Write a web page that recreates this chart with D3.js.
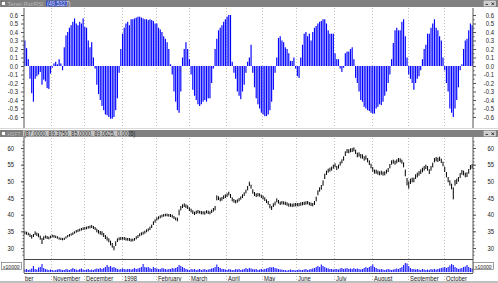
<!DOCTYPE html>
<html><head><meta charset="utf-8">
<script src="https://cdn.jsdelivr.net/npm/d3@7"></script>
<style>
html,body{margin:0;padding:0;background:#fff;overflow:hidden}
svg{display:block}
text{font-family:"Liberation Sans",Arial,sans-serif}
</style></head><body><svg id="c" width="498" height="283"></svg>
<script>
// ---- data ----
const monthLabels = ["ber","November","December","1998","February","March","April","May","June","July","August","September","October"];
const monthDays   = [16,19,22,20,19,22,21,20,22,22,21,21,17];

const rsi = [
 0.30,0.21,0.08,-0.15,-0.32,-0.42,-0.15,-0.12,-0.10,-0.07,
 -0.22,-0.16,-0.18,-0.26,-0.27,-0.09,-0.02,0.03,0.05,0.02,
 0.08,0.03,-0.05,0.22,0.36,0.40,0.45,0.48,0.52,0.56,
 0.50,0.48,0.52,0.50,0.56,0.46,0.45,0.30,0.22,0.28,
 0.10,-0.03,-0.22,-0.33,-0.40,-0.47,-0.52,-0.57,-0.58,-0.60,
 -0.62,-0.62,-0.60,-0.52,-0.38,-0.08,0.20,0.38,0.45,0.50,
 0.52,0.48,0.55,0.55,0.56,0.57,0.58,0.58,0.57,0.56,
 0.55,0.55,0.54,0.55,0.54,0.53,0.50,0.50,0.45,0.43,
 0.40,0.35,0.32,0.28,0.20,0.02,-0.10,-0.30,-0.42,-0.52,
 -0.55,-0.30,0.10,0.20,0.28,0.20,0.08,-0.10,-0.28,-0.35,
 -0.40,-0.45,-0.47,-0.45,-0.42,-0.40,-0.42,-0.38,-0.38,-0.20,
 -0.03,0.20,0.32,0.42,0.45,0.48,0.52,0.55,0.58,0.60,
 0.60,0.05,-0.08,-0.15,-0.30,-0.35,-0.39,-0.30,-0.22,-0.08,
 0.05,0.10,0.25,-0.08,-0.25,-0.38,-0.45,-0.50,-0.55,-0.57,
 -0.59,-0.59,-0.57,-0.52,-0.42,-0.28,-0.08,0.10,0.33,0.35,
 0.30,0.28,0.22,0.20,0.15,0.06,0.06,0.10,-0.03,-0.12,
 -0.14,0.10,0.25,0.38,0.40,0.35,0.38,0.30,0.40,0.45,
 0.47,0.50,0.52,0.53,0.55,0.55,0.50,0.42,0.38,0.38,
 0.38,0.15,0.08,0.08,-0.03,-0.07,-0.02,0.15,0.17,0.17,
 0.20,0.22,0.08,-0.14,-0.20,-0.30,-0.40,-0.42,-0.48,-0.50,
 -0.52,-0.53,-0.55,-0.56,-0.56,-0.50,-0.48,-0.45,-0.46,-0.42,
 -0.35,-0.30,-0.20,-0.10,0.08,0.27,0.42,0.45,0.42,0.42,
 0.52,0.55,0.35,0.10,-0.10,-0.15,-0.20,-0.28,-0.20,-0.15,
 -0.12,-0.05,0.08,0.20,0.25,0.38,0.38,0.45,0.50,0.55,
 0.45,0.42,0.35,0.30,0.10,-0.05,-0.20,-0.30,-0.50,-0.55,
 -0.60,-0.50,-0.40,-0.25,-0.05,0.02,0.20,0.30,0.32,0.42,
 0.50,0.48
];

const lo = [
 34.1,34.0,33.8,33.3,32.8,33.3,33.9,33.6,33.2,32.5,
 31.2,32.4,32.9,32.7,32.6,32.9,33.2,33.1,33.0,32.8,
 32.5,32.4,32.3,32.4,32.8,33.2,33.4,33.7,33.9,34.3,
 34.6,34.8,35.0,35.2,35.4,35.5,35.6,35.8,35.9,36.0,
 35.7,35.4,34.7,34.3,34.0,33.8,33.3,32.7,32.2,31.7,
 30.8,30.1,29.3,30.6,31.8,32.3,32.4,32.5,32.4,32.2,
 32.2,32.1,31.9,32.0,32.2,32.6,33.0,33.5,33.8,34.0,
 34.3,34.7,35.0,35.4,36.0,36.9,37.6,38.2,38.6,38.9,
 39.2,39.4,39.5,39.5,39.4,39.3,39.1,38.7,38.3,38.0,
 39.8,41.3,42.0,42.3,42.0,41.7,41.1,40.7,40.2,39.9,
 40.2,40.4,40.3,40.1,40.1,40.0,40.4,40.2,40.1,40.5,
 40.9,41.3,44.3,44.4,44.0,44.2,44.7,45.0,45.3,45.8,
 45.0,44.0,43.6,43.4,43.6,44.0,44.5,45.0,45.6,46.4,
 47.3,48.6,47.8,46.3,45.6,45.3,45.5,45.4,45.0,44.6,
 44.1,43.5,43.0,41.9,41.4,42.3,42.8,43.7,43.3,42.9,
 43.1,43.0,42.9,42.7,42.4,42.4,42.3,42.4,42.5,42.5,
 42.5,42.7,42.8,42.9,43.0,43.1,42.8,42.6,42.5,42.9,
 44.0,45.8,46.9,47.5,48.7,50.7,51.9,52.6,52.9,53.2,
 53.8,54.2,53.4,53.8,54.7,55.4,56.2,57.6,58.5,58.4,
 58.7,58.8,59.0,58.2,57.2,57.4,56.9,56.8,56.2,56.5,
 55.7,54.9,53.9,52.9,52.3,52.3,52.0,51.8,52.0,51.7,
 51.8,52.3,52.8,53.9,55.0,55.3,55.0,55.4,55.8,55.7,
 55.3,54.2,51.5,48.8,47.8,49.2,49.7,49.7,50.7,51.2,
 51.7,52.2,52.7,53.2,53.7,53.2,52.2,53.2,54.2,55.7,
 56.0,55.8,56.1,55.5,54.5,52.8,51.2,49.7,48.7,47.6,
 44.6,48.7,49.2,49.9,51.0,52.0,51.8,51.2,51.3,52.3,
 53.5,53.8
];

const hi = [
 35.0,34.9,34.6,34.3,33.9,34.2,35.0,34.6,34.4,33.7,
 33.0,33.5,33.8,33.6,33.4,33.7,34.0,33.9,33.7,33.5,
 33.2,33.1,33.0,33.1,33.5,33.9,34.2,34.4,34.7,35.0,
 35.4,35.6,35.8,36.0,36.2,36.3,36.4,36.6,36.7,36.9,
 36.6,36.3,35.8,35.4,35.1,35.0,34.5,33.9,33.4,32.9,
 32.2,31.5,30.6,32.0,32.9,33.2,33.3,33.3,33.3,33.1,
 33.0,33.0,32.8,32.8,33.0,33.5,33.9,34.4,34.7,34.9,
 35.2,35.6,35.9,36.4,37.0,38.0,38.6,39.2,39.5,39.8,
 40.0,40.2,40.3,40.3,40.2,40.2,40.0,39.6,39.2,39.1,
 41.5,42.6,43.1,43.4,43.1,42.8,42.2,41.8,41.3,40.9,
 41.2,41.4,41.2,41.1,41.0,41.0,41.3,41.2,41.0,41.5,
 42.0,42.6,45.8,45.5,45.1,45.3,45.8,46.1,46.4,46.9,
 46.2,45.2,44.7,44.4,44.6,45.0,45.5,46.1,46.7,47.5,
 48.6,49.9,49.0,47.6,46.8,46.4,46.5,46.4,46.0,45.7,
 45.2,44.6,44.1,43.2,42.6,43.4,43.9,44.9,44.4,43.9,
 44.1,44.0,43.9,43.7,43.4,43.4,43.3,43.4,43.5,43.5,
 43.5,43.7,43.8,43.9,44.0,44.1,43.8,43.6,43.5,44.1,
 45.4,47.3,48.2,48.9,50.3,52.3,53.2,53.8,54.1,54.4,
 55.0,55.4,54.6,55.0,55.9,56.6,57.5,59.0,59.7,59.6,
 59.9,60.0,60.2,59.5,58.6,58.7,58.2,58.1,57.5,57.8,
 57.0,56.3,55.3,54.3,53.5,53.5,53.2,53.0,53.2,52.9,
 53.0,53.5,54.0,55.2,56.3,56.5,56.2,56.6,57.0,56.9,
 56.5,55.7,53.5,51.0,50.0,50.8,51.1,51.1,52.1,52.6,
 53.1,53.6,54.1,54.6,55.0,54.6,53.6,54.6,55.6,57.0,
 57.3,57.1,57.4,56.8,55.9,54.4,52.8,51.3,50.3,49.3,
 48.2,50.4,50.8,51.3,52.5,53.4,53.2,52.6,52.7,53.7,
 54.9,55.2
];

const volume = [
 2.5,3,2,2.5,3.5,6,3,2.5,4.5,5,
 8,4,3,2.5,2,2.5,2,1.5,2,2.5,
 3,2.5,2,2,3,2.5,2,3,4,3,
 2.5,2,3,3.5,2.5,2,2.5,3,2,2.5,
 2,3,3.5,3,4,3,4,5,7,5,
 6,4.5,5,4,3,2.5,3,3.5,3,2.5,
 3,3,2.5,3,4,3,3.5,4,5,8,
 5,4.5,5,4,3,5,4,3.5,3,3,
 4,3.5,3,2.5,3,3,4,3.5,4,5,
 7,6,5,4,3,2.5,2,3,2.5,3,
 2,2.5,3,2,2.5,3,2,2.5,3,3.5,
 4,5,7.5,5,4,3,3,2.5,2,3,
 2.5,2,2,3,2.5,3,2,2.5,3,4,
 3,4,3.5,3,2.5,3,2,2.5,3,2.5,
 3,3.5,4,5,4.5,5,4,3.5,3,2.5,
 2.5,2,2,1.5,2,2.5,2,2,1.5,2,
 2.5,2,2,2.5,3,2,2.5,3,3.5,4,
 5,6,5,7.5,6,5,4,3.5,3,3,
 2.5,3,3,2.5,3.5,4,3,3.5,4,3,
 3.5,3,4,3,3.5,3,2.5,3,4,5,
 4,5,6,7.5,5,4,3,2.5,3,2.5,
 2,2.5,3,2.5,2,2.5,3,3.5,3,4,
 5,7,9,8.5,6,4,3,3,2.5,3,
 2.5,2,3,2.5,2,2.5,2,3,2.5,3,
 2.5,3,3.5,4,4.5,5,4,5,6.5,8,
 7,5,4,3,3.5,4,5,5.5,7,5,
 4,3.5
];

const rsiTicks   = [0.6,0.5,0.4,0.3,0.2,0.1,0.0,-0.1,-0.2,-0.3,-0.4,-0.5,-0.6];
const priceTicks = [60,55,50,45,40,35,30];
const topTitle   = "Tenet Rsi/RSI";
const topValue   = "(49.5327)";
const botTitle   = "HSFT";
const botValue   = "(87.0000, 89.3750, 85.0000, 89.0625, 0.0005)";
const volUnit    = "x10000";

// ---- drawing ----
const svg = d3.select("#c");
const N = rsi.length;
const L = 24, R = 473;
const x = d3.scaleBand().domain(d3.range(N)).range([L, R]);
const yR = d3.scaleLinear().domain([-0.6, 0.6]).range([117, 15]);
const yP = d3.scaleLinear().domain([30, 60]).range([248, 148]);
const yV = d3.scaleLinear().domain([0, 10]).range([272, 262]);

const monthStart = monthDays.map((d, i) => d3.sum(monthDays.slice(0, i)));

svg.append("rect").attr("width", 498).attr("height", 283).attr("fill", "#fff");

// title bars
function titleBar(y, title, value, valFill, valText, valW, titleW) {
  const g = svg.append("g");
  g.append("rect").attr("x", 0).attr("y", y).attr("width", 498).attr("height", 7).attr("fill", "#808080");
  g.append("rect").attr("x", 1.5).attr("y", y + 1.5).attr("width", 4).attr("height", 4).attr("fill", "#fff").attr("stroke", "#444").attr("stroke-width", 0.5);
  g.append("text").attr("x", 7.5).attr("y", y + 6).attr("font-size", 6).attr("fill", "#b8b8b8")
    .attr("textLength", titleW).attr("lengthAdjust", "spacingAndGlyphs").text(title);
  g.append("rect").attr("x", valW[0]).attr("y", y + 0.5).attr("width", valW[1]).attr("height", 6).attr("fill", valFill);
  g.append("text").attr("class", "cond").attr("x", valW[0] + 1).attr("y", y + 6).attr("font-size", 6.5).attr("fill", valText).text(value);
  [484, 490].forEach(bx => {
    g.append("rect").attr("x", bx).attr("y", y + 1).attr("width", 5.5).attr("height", 5).attr("fill", "#c8c8c8").attr("stroke", "#f0f0f0").attr("stroke-width", 0.5);
  });
  g.append("path").attr("d", `M${491.5},${y+2.5}L${494},${y+5}M${494},${y+2.5}L${491.5},${y+5}`).attr("stroke", "#000").attr("stroke-width", 0.7);
  g.append("path").attr("d", `M${485.5},${y+4.5}H${488}`).attr("stroke", "#000").attr("stroke-width", 0.7);
}
titleBar(0, topTitle, topValue, "#3a52b8", "#d8d8ff", [46, 21], 36);
titleBar(130, botTitle, botValue, "#c4c4c4", "#303030", [23, 106], 13);

// month gridlines
const grid = svg.append("g").attr("stroke", "#bdbdbd").attr("stroke-dasharray", "1,2").attr("stroke-width", 1);
monthStart.slice(1).forEach(s => {
  const gx = Math.round(x(s)) + 0.5;
  grid.append("line").attr("x1", gx).attr("x2", gx).attr("y1", 8).attr("y2", 128);
  grid.append("line").attr("x1", gx).attr("x2", gx).attr("y1", 138).attr("y2", 281);
});

// RSI bars
const bw = 1.15;
svg.append("g").selectAll("rect").data(rsi).join("rect")
  .attr("x", (d, i) => x(i) + (x.bandwidth() - bw) / 2)
  .attr("width", bw)
  .attr("y", d => Math.min(yR(0), yR(d)))
  .attr("height", d => Math.abs(yR(d) - yR(0)))
  .attr("fill", "#0000ff");

// price bars
svg.append("g").selectAll("line").data(d3.range(N)).join("line")
  .attr("x1", i => x(i) + x.bandwidth() / 2).attr("x2", i => x(i) + x.bandwidth() / 2)
  .attr("y1", i => yP(lo[i])).attr("y2", i => yP(hi[i]))
  .attr("stroke", "#000").attr("stroke-width", 1);

// volume bars
svg.append("g").selectAll("rect").data(volume).join("rect")
  .attr("x", (d, i) => x(i) + (x.bandwidth() - bw) / 2)
  .attr("width", bw)
  .attr("y", d => yV(d))
  .attr("height", d => yV(0) - yV(d))
  .attr("fill", "#2020ff");

// axes
function styleAxis(g) {
  g.selectAll("text").attr("font-size", 7).attr("fill", "#202020").attr("class", "cond");
  g.selectAll("line").attr("stroke", "#555");
}
const fmt1 = v => v.toFixed(1);
const rsiMinor = d3.range(-0.55, 0.6, 0.1);
[["left", L], ["right", R]].forEach(([side, px]) => {
  const ax = side === "left" ? d3.axisLeft : d3.axisRight;
  const g1 = svg.append("g").attr("transform", `translate(${px},0)`);
  g1.call(ax(yR).tickValues(rsiTicks).tickFormat(fmt1).tickSize(3).tickSizeOuter(0).tickPadding(side === "left" ? 3 : 12));
  g1.select(".domain").remove();
  g1.append("line").attr("x1", 0).attr("x2", 0).attr("y1", 8).attr("y2", 128);
  g1.append("g").call(ax(yR).tickValues(rsiMinor).tickFormat("").tickSize(1.5).tickSizeOuter(0)).select(".domain").remove();
  styleAxis(g1);
  if (side === "right") g1.selectAll("text").attr("text-anchor", "end").attr("x", 21);

  const g2 = svg.append("g").attr("transform", `translate(${px},0)`);
  g2.call(ax(yP).tickValues(priceTicks).tickSize(3).tickSizeOuter(0).tickPadding(side === "left" ? 7 : 12));
  g2.select(".domain").remove();
  g2.append("line").attr("x1", 0).attr("x2", 0).attr("y1", 137).attr("y2", 273);
  g2.append("g").call(ax(yP).tickValues(d3.range(28, 63, 1)).tickFormat("").tickSize(1.5).tickSizeOuter(0)).select(".domain").remove();
  styleAxis(g2);
  if (side === "right") g2.selectAll("text").attr("text-anchor", "end").attr("x", 21);
});

// separators
svg.append("line").attr("x1", L).attr("x2", R).attr("y1", 259.5).attr("y2", 259.5).attr("stroke", "#444");
svg.append("line").attr("x1", L).attr("x2", R).attr("y1", 273.5).attr("y2", 273.5).attr("stroke", "#555");
svg.append("line").attr("x1", 0).attr("x2", 498).attr("y1", 128.5).attr("y2", 128.5).attr("stroke", "#d8d8d8");

// month labels
svg.append("g").selectAll("text").data(monthLabels).join("text")
  .attr("class", "cond")
  .attr("x", (d, i) => i === 0 ? L + 1 : Math.round(x(monthStart[i])) + 2)
  .attr("y", 280.5)
  .attr("font-size", 7).attr("fill", "#202020")
  .text(d => d);

// volume unit boxes
[[1, 262], [473, 262]].forEach(([bx, by]) => {
  svg.append("rect").attr("x", bx + 0.5).attr("y", by + 0.5).attr("width", 20).attr("height", 7).attr("fill", "#fff").attr("stroke", "#606060").attr("stroke-width", 0.6);
  svg.append("text").attr("class", "cond").attr("x", bx + 2).attr("y", by + 6.5).attr("font-size", 6).attr("fill", "#202020").text(volUnit);
});

// bottom frame
svg.append("rect").attr("x", 0).attr("y", 281).attr("width", 498).attr("height", 2).attr("fill", "#c0c0c0");

// condense text to mimic the narrow bitmap font
svg.selectAll("text.cond").each(function () {
  const w = this.getComputedTextLength();
  if (w > 0) d3.select(this).attr("textLength", w * 0.84).attr("lengthAdjust", "spacingAndGlyphs");
});
</script></body></html>
